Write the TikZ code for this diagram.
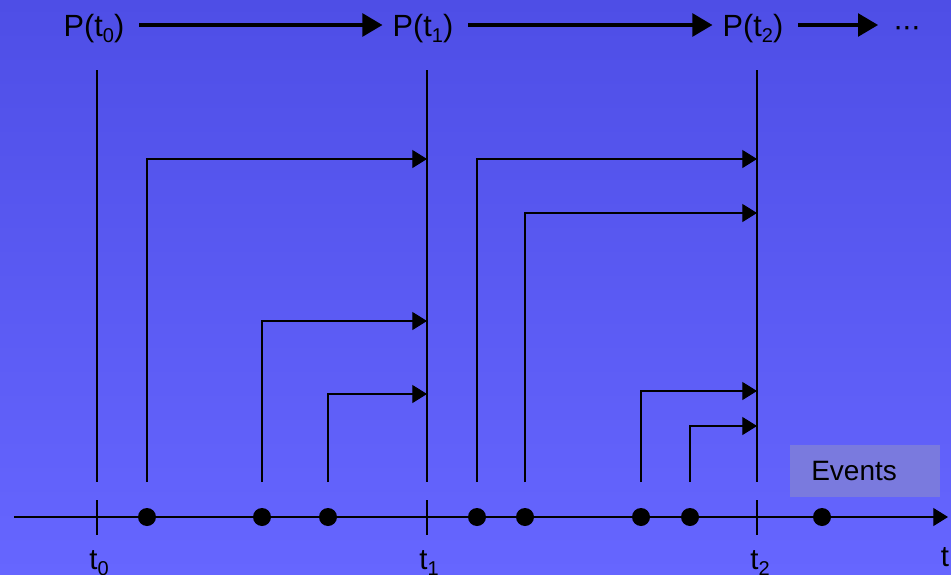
\documentclass[tikz,border=0pt]{standalone}
\usepackage{fontspec}
\setmainfont{Liberation Sans}
\usetikzlibrary{arrows.meta,calc}
\definecolor{bgtop}{RGB}{78,78,230}
\definecolor{bgbot}{RGB}{102,102,255}
\definecolor{evfill}{RGB}{122,122,222}
% lowered, smaller index digit in the current font
\newcommand\subidx[1]{\raisebox{-0.22em}{\fontsize{15}{15}\selectfont #1}}

\begin{document}
\begin{tikzpicture}[x=0.75pt,y=-0.75pt,
  title/.style={anchor=base,inner sep=0pt,font=\fontsize{23}{27}\selectfont},
  tlabel/.style={anchor=base,inner sep=0pt,font=\fontsize{22}{26}\selectfont},
  bigarrow/.style={line width=2.6pt,-{Triangle[length=15pt,width=17pt]}},
  thinline/.style={line width=0.8pt},
  evarrow/.style={line width=0.8pt,-{Triangle[length=11pt,width=13.5pt]}},
  event/.style={circle,fill=black,inner sep=0pt,minimum size=13.5pt},
]
% background
\shade[top color=bgtop,bottom color=bgbot] (0,0) rectangle (951,575);
\useasboundingbox (0,0) rectangle (951,575);

% states along the top
\coordinate (row) at (0,25);
\node[title] (p0) at (94,36) {P(t\subidx{0})};
\node[title] (p1) at (423,36) {P(t\subidx{1})};
\node[title] (p2) at (753,36) {P(t\subidx{2})};
\node[title] (pd) at (907,36) {·\kern-1pt·\kern-1pt·};
\draw[bigarrow,shorten <=11pt,shorten >=7.5pt] (p0.east |- row) -- (p1.west |- row);
\draw[bigarrow,shorten <=11pt,shorten >=7.5pt] (p1.east |- row) -- (p2.west |- row);
\draw[bigarrow,shorten <=11pt,shorten >=11pt] (p2.east |- row) -- (pd.west |- row);

% time axis
\coordinate (axstart) at (14,517);
\coordinate (axend) at (948,517);
\draw[evarrow] (axstart) -- (axend);

% observation times
\coordinate (t0) at (97,517);
\coordinate (t1) at (427,517);
\coordinate (t2) at (757,517);
\foreach \t in {t0,t1,t2}{
  \draw[thinline] ($(\t)+(0,-447)$) -- ($(\t)+(0,-35)$);
  \draw[thinline] ($(\t)+(0,-17)$) -- ($(\t)+(0,18)$);
}
\node[tlabel] (l0) at (99,569) {t\subidx{0}};
\node[tlabel] (l1) at (429,569) {t\subidx{1}};
\node[tlabel] (l2) at (760,569) {t\subidx{2}};
\node[tlabel] (lt) at (945,566) {t};

% events
\node[event] (e1) at (147,517) {};
\node[event] (e2) at (262,517) {};
\node[event] (e3) at (328,517) {};
\node[event] (e4) at (477,517) {};
\node[event] (e5) at (525,517) {};
\node[event] (e6) at (641,517) {};
\node[event] (e7) at (690,517) {};
\node[event] (e8) at (822,517) {};

% where each event is reported
\coordinate (h1) at (427,159);
\coordinate (h2) at (427,321);
\coordinate (h3) at (427,394);
\coordinate (h4) at (757,159);
\coordinate (h5) at (757,213);
\coordinate (h6) at (757,391);
\coordinate (h7) at (757,426);
\foreach \i in {1,...,7}{
  \draw[evarrow] ($(e\i)+(0,-35)$) |- (h\i);
}

% legend
\fill[evfill] (790,445) rectangle (940,497);
\node[anchor=base west,inner sep=0pt,font=\fontsize{21}{24}\selectfont] (ev) at (811,480) {Events};
\end{tikzpicture}
\end{document}
